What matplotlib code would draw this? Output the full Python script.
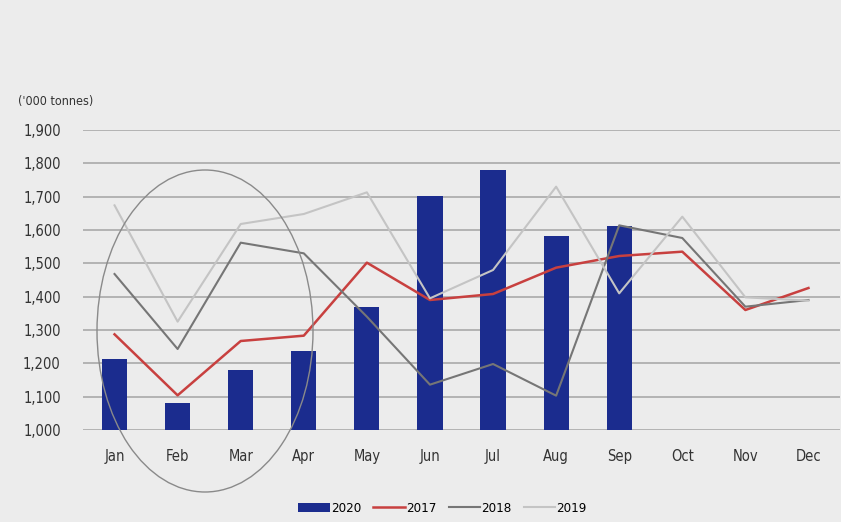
import numpy as np
import matplotlib
matplotlib.use('Agg')
import matplotlib.pyplot as plt
from matplotlib.patches import Ellipse

months = ['Jan', 'Feb', 'Mar', 'Apr', 'May', 'Jun', 'Jul', 'Aug', 'Sep', 'Oct', 'Nov', 'Dec']
y2020 = [1212, 1080, 1180, 1237, 1368, 1702, 1780, 1582, 1612]
y2017 = [1287, 1104, 1267, 1283, 1502, 1390, 1408, 1487, 1522, 1535, 1360, 1426]
y2018 = [1468, 1243, 1562, 1530, 1340, 1136, 1198, 1103, 1614, 1576, 1370, 1390]
y2019 = [1674, 1325, 1618, 1648, 1713, 1395, 1480, 1730, 1410, 1640, 1398, 1388]
yticks = np.arange(1000, 2000, 100)

bg = '#ececec'
plt.rcParams['font.family'] = ['DejaVu Sans']
plt.rcParams['font.stretch'] = 'condensed'

fig = plt.figure(figsize=(8.41, 5.22), dpi=100, facecolor=bg)
ax = fig.add_axes([83/841, 92/522, 757/841, 300/522])
ax.set_facecolor(bg)

x = np.arange(len(months))
b = ax.bar(x[:len(y2020)], np.array(y2020) - 1000, bottom=1000, width=0.4,
           color='#1b2c8e', label='2020', zorder=3)
l1, = ax.plot(x, y2017, color='#c8403f', lw=1.8, label='2017', zorder=4)
l2, = ax.plot(x, y2018, color='#767676', lw=1.5, label='2018', zorder=4)
l3, = ax.plot(x, y2019, color='#c4c4c4', lw=1.5, label='2019', zorder=4)

ax.set_xlim(-0.5, 11.5)
ax.set_ylim(1000, 1900)
ax.set_yticks(yticks)
ax.set_yticklabels(['{:,}'.format(v) for v in yticks], fontsize=10.5, color='#333333')
ax.set_xticks(x)
ax.set_xticklabels(months, fontsize=10.5, color='#333333')
ax.tick_params(axis='y', length=0, pad=16)
ax.tick_params(axis='x', length=0, pad=14)
ax.grid(axis='y', color='#a9a9a9', lw=1.2, zorder=1)
for s in ax.spines.values():
    s.set_visible(False)

fig.text(18/841, 1 - 101/522, "('000 tonnes)", fontsize=9, color='#333333',
         va='center', ha='left')

# hand-drawn ellipse annotation
ell = Ellipse((205/841, 1 - 331/522), 216/841, 322/522, transform=fig.transFigure,
              fill=False, edgecolor='#8a8a8a', lw=1.0, zorder=5)
fig.patches.append(ell)

ax.legend([b, l1, l2, l3], ['2020', '2017', '2018', '2019'],
          loc='upper center', bbox_to_anchor=(0.475, -0.2), ncol=4, frameon=False,
          fontsize=9.5, handlelength=2.4, handletextpad=0.1, columnspacing=0.9)

fig.savefig('out.png', dpi=100, facecolor=bg)
